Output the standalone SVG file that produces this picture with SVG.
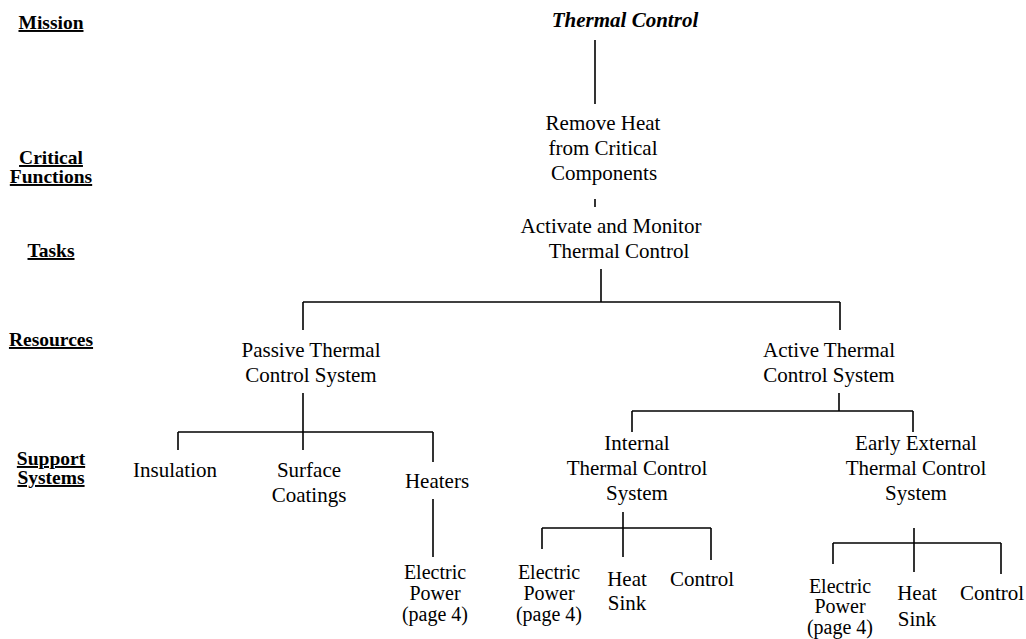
<svg xmlns="http://www.w3.org/2000/svg" width="1026" height="639" viewBox="0 0 1026 639">
<style>
text{font-family:'Liberation Serif','Tinos','Times New Roman','DejaVu Serif',serif;fill:#000;text-anchor:middle}
.t{font-size:21px}
.s{font-size:20px}
.lb{font-size:19.5px;font-weight:bold;text-decoration:underline}
.mi{font-weight:bold;font-style:italic}
.c line{stroke:#000;stroke-width:1.6;fill:none}
</style>
<rect width="1026" height="639" fill="#fff"/>
<g id="levels">
<text class="lb" x="51" y="29">Mission</text>
<text class="lb" x="51" y="164">Critical</text>
<text class="lb" x="51" y="183">Functions</text>
<text class="lb" x="51" y="257">Tasks</text>
<text class="lb" x="51" y="346">Resources</text>
<text class="lb" x="51" y="465">Support</text>
<text class="lb" x="51" y="484">Systems</text>
</g>
<g class="c" id="connectors">
<line x1="595" y1="40" x2="595" y2="104"/>
<line x1="595" y1="199" x2="595" y2="207"/>
<line x1="601" y1="269" x2="601" y2="302"/>
<line x1="303" y1="302" x2="840" y2="302"/>
<line x1="303" y1="302" x2="303" y2="330"/>
<line x1="840" y1="302" x2="840" y2="330"/>
<line x1="303" y1="393" x2="303" y2="450"/>
<line x1="178" y1="432" x2="433" y2="432"/>
<line x1="178" y1="432" x2="178" y2="450"/>
<line x1="433" y1="432" x2="433" y2="462"/>
<line x1="433" y1="499" x2="433" y2="557"/>
<line x1="839" y1="393" x2="839" y2="411"/>
<line x1="632" y1="411" x2="913" y2="411"/>
<line x1="632" y1="411" x2="632" y2="432"/>
<line x1="913" y1="411" x2="913" y2="432"/>
<line x1="623" y1="512" x2="623" y2="557"/>
<line x1="542" y1="528" x2="711" y2="528"/>
<line x1="542" y1="528" x2="542" y2="549"/>
<line x1="711" y1="528" x2="711" y2="560"/>
<line x1="914" y1="528" x2="914" y2="572"/>
<line x1="833" y1="543" x2="1001" y2="543"/>
<line x1="833" y1="543" x2="833" y2="564"/>
<line x1="1001" y1="543" x2="1001" y2="574"/>
</g>
<g id="mission"><text class="t mi" x="625" y="27">Thermal Control</text></g>
<g id="critical-function"><text class="t" x="603" y="130">Remove Heat</text><text class="t" x="603" y="155">from Critical</text><text class="t" x="604" y="180">Components</text></g>
<g id="task"><text class="t" x="611" y="233">Activate and Monitor</text><text class="t" x="619" y="258">Thermal Control</text></g>
<g id="passive"><text class="t" x="311" y="357">Passive Thermal</text><text class="t" x="311" y="382">Control System</text></g>
<g id="active"><text class="t" x="829" y="357">Active Thermal</text><text class="t" x="829" y="382">Control System</text></g>
<g id="insulation"><text class="t" x="175" y="477">Insulation</text></g>
<g id="surface-coatings"><text class="t" x="309" y="477">Surface</text><text class="t" x="309" y="502">Coatings</text></g>
<g id="heaters"><text class="t" x="437" y="488">Heaters</text></g>
<g id="heaters-power"><text class="s" x="435" y="579">Electric</text><text class="s" x="435" y="600">Power</text><text class="s" x="435" y="621">(page 4)</text></g>
<g id="internal"><text class="t" x="637" y="450">Internal</text><text class="t" x="637" y="475">Thermal Control</text><text class="t" x="637" y="500">System</text></g>
<g id="external"><text class="t" x="916" y="450">Early External</text><text class="t" x="916" y="475">Thermal Control</text><text class="t" x="916" y="500">System</text></g>
<g id="int-power"><text class="s" x="549" y="579">Electric</text><text class="s" x="549" y="600">Power</text><text class="s" x="549" y="621">(page 4)</text></g>
<g id="int-heatsink"><text class="t" x="627" y="586">Heat</text><text class="t" x="627" y="610">Sink</text></g>
<g id="int-control"><text class="t" x="702" y="586">Control</text></g>
<g id="ext-power"><text class="s" x="840" y="593">Electric</text><text class="s" x="840" y="613">Power</text><text class="s" x="840" y="634">(page 4)</text></g>
<g id="ext-heatsink"><text class="t" x="917" y="600">Heat</text><text class="t" x="917" y="626">Sink</text></g>
<g id="ext-control"><text class="t" x="992" y="600">Control</text></g>
</svg>
